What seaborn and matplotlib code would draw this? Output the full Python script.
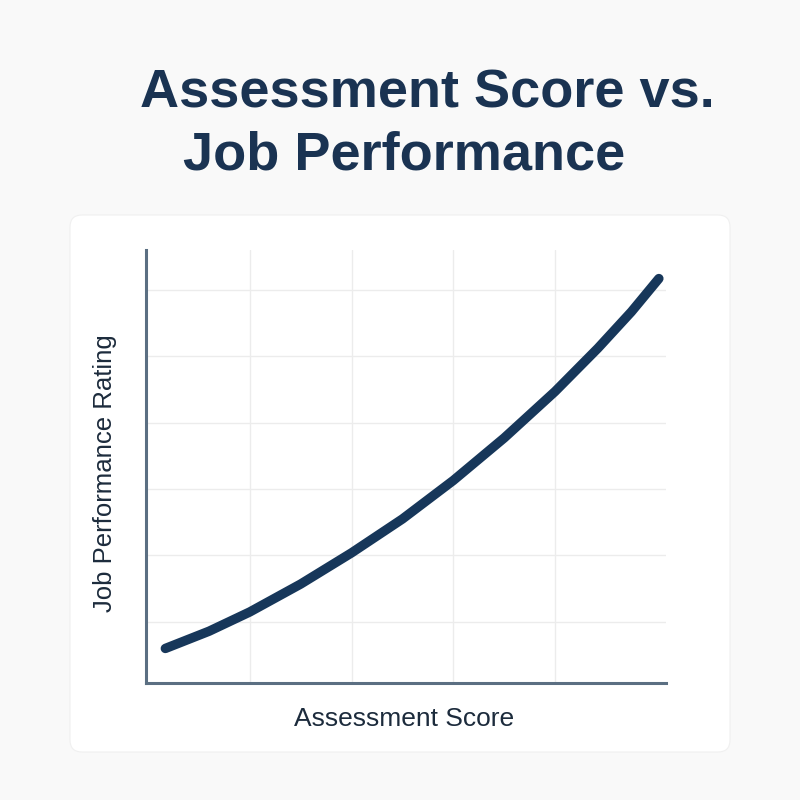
import matplotlib
matplotlib.use("Agg")
import matplotlib.pyplot as plt
from matplotlib.patches import FancyBboxPatch
import seaborn as sns
import pandas as pd

# Data (arbitrary units, no tick labels shown)
assessment_score = [0.17, 0.6, 1.0, 1.5, 2.0, 2.5, 3.0, 3.5, 4.0, 4.42, 4.75, 5.02]
job_performance = [0.60, 0.86, 1.15, 1.57, 2.04, 2.55, 3.13, 3.77, 4.47, 5.12, 5.67, 6.17]
x_grid = [1, 2, 3, 4]
y_grid = [1, 2, 3, 4, 5, 6]

title_line1 = "Assessment Score vs."
title_line2 = "Job Performance"
x_label = "Assessment Score"
y_label = "Job Performance Rating"

df = pd.DataFrame({"score": assessment_score, "perf": job_performance})

sns.set_theme(style="white")
plt.rcParams["font.family"] = ["Liberation Sans", "DejaVu Sans"]

W, H = 800, 800
fig = plt.figure(figsize=(8, 8), dpi=100)
fig.patch.set_facecolor("#f9f9f9")

# white card with rounded corners
card = FancyBboxPatch((70 / W, 1 - 752 / H), (730 - 70) / W, (752 - 215) / H,
                      boxstyle="round,pad=0,rounding_size=0.015",
                      transform=fig.transFigure, facecolor="white",
                      edgecolor="#f0f0f0", linewidth=0.8, zorder=-5)
fig.patches.append(card)

ax = fig.add_axes([146 / W, 1 - 683 / H, (666 - 146) / W, (683 - 250) / H])
ax.set_zorder(2)
ax.set_facecolor("none")

sns.lineplot(data=df, x="score", y="perf", ax=ax, color="#17375a",
             linewidth=6.8, solid_capstyle="round", solid_joinstyle="round",
             zorder=3)

ax.set_xlim(-0.02, 5.09)
ax.set_ylim(0.08, 6.6)
ax.set_xticks(x_grid)
ax.set_yticks(y_grid)
ax.tick_params(length=0, labelbottom=False, labelleft=False)
ax.grid(True, color="#ececec", linewidth=1.0)
ax.set_xlabel("")
ax.set_ylabel("")

for s in ["top", "right"]:
    ax.spines[s].set_visible(False)
for s in ["left", "bottom"]:
    ax.spines[s].set_color("#5b6f82")
    ax.spines[s].set_linewidth(2.2)

navy = "#1a3352"
fig.text(140 / W, 1 - 107 / H, title_line1, fontsize=39, fontweight="bold",
         color=navy, ha="left", va="baseline")
fig.text(183 / W, 1 - 170 / H, title_line2, fontsize=39, fontweight="bold",
         color=navy, ha="left", va="baseline")

fig.text(404 / W, 1 - 726 / H, x_label, fontsize=19, color="#1c2b3c",
         ha="center", va="baseline")
fig.text(105 / W, 1 - 473 / H, y_label, fontsize=18.5, color="#1c2b3c",
         ha="center", va="center", rotation=90)

fig.savefig("out.png", dpi=100, facecolor=fig.get_facecolor())
